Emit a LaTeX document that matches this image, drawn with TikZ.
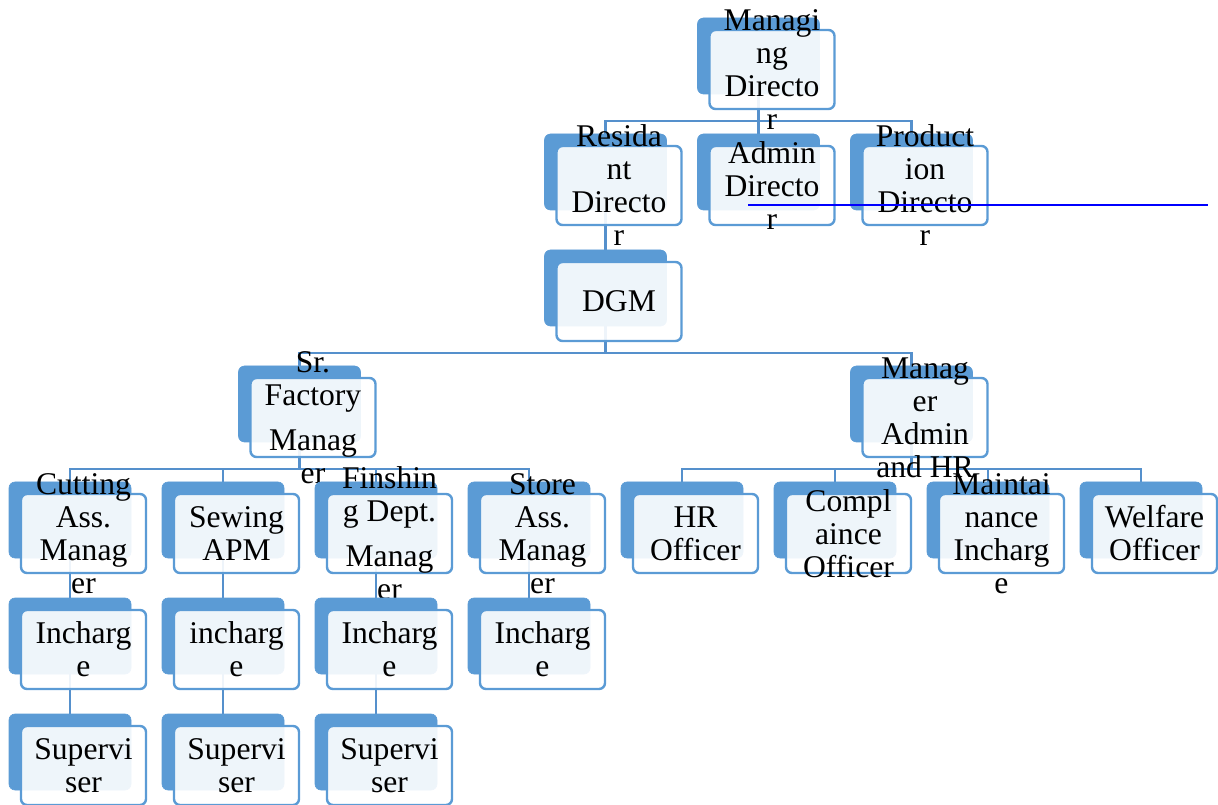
\documentclass[tikz,border=0pt]{standalone}
\usepackage{fontspec}
\setmainfont{Liberation Serif}
\usetikzlibrary{calc}
\definecolor{accent}{HTML}{5B9BD5}
\definecolor{linkblue}{HTML}{5590CC}
\pgfdeclarelayer{bg}
\pgfsetlayers{bg,main}

\tikzset{
  backbox/.style={fill=accent, draw=accent, line width=0.5pt, rounded corners=4.5pt,
    minimum width=91.5pt, minimum height=57pt, inner sep=0pt, outer sep=0pt},
  frontbox/.style={fill=white, fill opacity=0.9, draw=accent, line width=1.8pt,
    rounded corners=4.5pt, minimum width=93.75pt, minimum height=59.25pt,
    inner sep=0pt, outer sep=0pt},
  boxtext/.style={align=center, inner sep=0pt, text=black,
    font=\fontsize{23.7pt}{24.75pt}\selectfont},
  link/.style={draw=linkblue, line width=2.1pt},
  strayline/.style={draw=blue, line width=1.5pt},
}

% one chart entry: shadow card, translucent front card, caption
% #1 name, #2 column, #3 row, #4 caption
\newcommand\orgbox[4]{%
  \node[backbox]  (#1-b) at ({70+153*#2},{56+116*#3}) {};
  \node[frontbox] (#1)   at ({83.5+153*#2},{69.5+116*#3}) {};
  \node[boxtext]  (#1-t) at (#1) {#4};
}
% elbow connector from a parent card down to a child card
\newcommand\orglink[2]{%
  \draw[link] (#1-b.south) -- ++(0,27) -| (#2-b.north);
}

\begin{document}
\begin{tikzpicture}[x=0.75pt, y=-0.75pt]
\useasboundingbox (0,0) rectangle (1218,805);

% row 0
\orgbox{md}{4.5}{0}{Managi\\ng\\Directo\\r}
% row 1
\orgbox{rd}{3.5}{1}{Resida\\nt\\Directo\\r}
\orgbox{ad}{4.5}{1}{Admin\\Directo\\r}
\orgbox{pd}{5.5}{1}{Product\\ion\\Directo\\r}
% row 2
\orgbox{dgm}{3.5}{2}{DGM}
% row 3
\orgbox{sfm}{1.5}{3}{Sr.\\Factory\\[9pt]Manag\\er}
\orgbox{mah}{5.5}{3}{Manag\\er\\Admin\\and HR}
% row 4
\orgbox{cut}{0}{4}{Cutting\\Ass.\\Manag\\er}
\orgbox{sew}{1}{4}{Sewing\\APM}
\orgbox{fin}{2}{4}{Finshin\\g Dept.\\[9pt]Manag\\er}
\orgbox{sto}{3}{4}{Store\\Ass.\\Manag\\er}
\orgbox{hro}{4}{4}{HR\\Officer}
\orgbox{cmp}{5}{4}{Compl\\aince\\Officer}
\orgbox{mnt}{6}{4}{Maintai\\nance\\Incharg\\e}
\orgbox{wel}{7}{4}{Welfare\\Officer}
% row 5
\orgbox{cuti}{0}{5}{Incharg\\e}
\orgbox{sewi}{1}{5}{incharg\\e}
\orgbox{fini}{2}{5}{Incharg\\e}
\orgbox{stoi}{3}{5}{Incharg\\e}
% row 6
\orgbox{cuts}{0}{6}{Supervi\\ser}
\orgbox{sews}{1}{6}{Supervi\\ser}
\orgbox{fins}{2}{6}{Supervi\\ser}

\begin{pgfonlayer}{bg}
  \orglink{md}{rd}
  \orglink{md}{ad}
  \orglink{md}{pd}
  \orglink{rd}{dgm}
  \orglink{dgm}{sfm}
  \orglink{dgm}{mah}
  \orglink{sfm}{cut}
  \orglink{sfm}{sew}
  \orglink{sfm}{fin}
  \orglink{sfm}{sto}
  \orglink{mah}{hro}
  \orglink{mah}{cmp}
  \orglink{mah}{mnt}
  \orglink{mah}{wel}
  \orglink{cut}{cuti}
  \orglink{sew}{sewi}
  \orglink{fin}{fini}
  \orglink{sto}{stoi}
  \orglink{cuti}{cuts}
  \orglink{sewi}{sews}
  \orglink{fini}{fins}
\end{pgfonlayer}

% thin blue rule across the director row
\coordinate (ruleL) at (748,205);
\coordinate (ruleR) at (1208,205);
\draw[strayline] (ruleL) -- (ruleR);
\end{tikzpicture}
\end{document}
